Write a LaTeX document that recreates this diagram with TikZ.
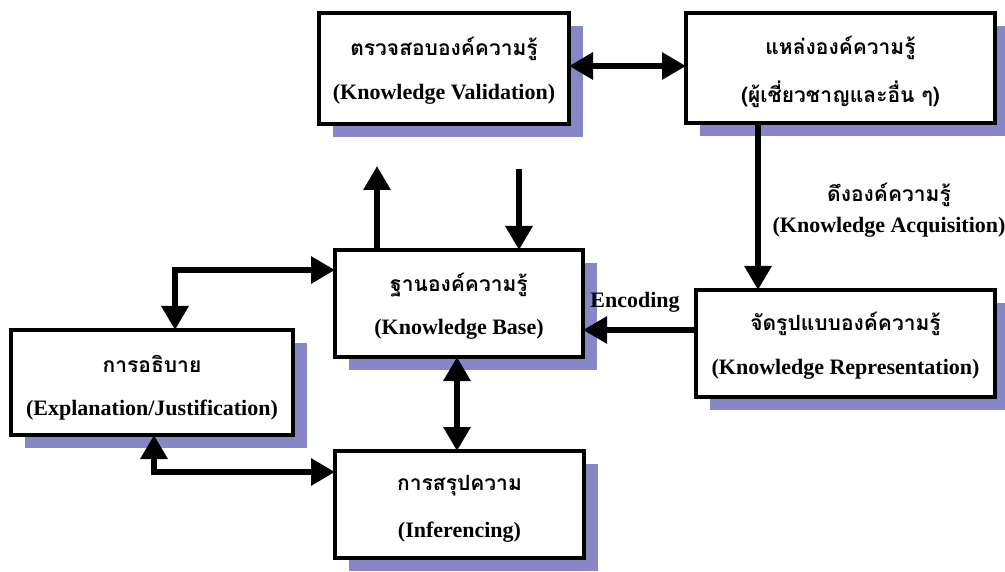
\documentclass[tikz,border=0pt]{standalone}
\usepackage{fontspec}
\setmainfont{Liberation Serif}
\newfontfamily\thaifont[Script=Thai]{Loma}
\usetikzlibrary{arrows.meta,calc,shadows}
\definecolor{shadowc}{RGB}{135,135,200}
\begin{document}
\begin{tikzpicture}[x=1pt,y=-1pt,
  box/.style={draw,line width=3.5pt,fill=white,inner sep=0pt,outer sep=0pt,
    general shadow={fill=shadowc,shadow xshift=14pt,shadow yshift=-13pt}},
  thai/.style={font=\thaifont\bfseries\fontsize{21}{24}\selectfont,inner sep=0pt},
  eng/.style={font=\bfseries\fontsize{22}{26}\selectfont,inner sep=0pt},
  tip/.tip={Triangle[length=24pt,width=26pt]},
  arr/.style={line width=6pt,-tip},
  biarr/.style={line width=6pt,tip-tip}]
\useasboundingbox (0,0) rectangle (1005,572);
% boxes
\node[box,minimum width=250pt,minimum height=111pt] (val) at (444,68.5) {};
\node[box,minimum width=309pt,minimum height=110pt] (src) at (840.5,68) {};
\node[box,minimum width=299pt,minimum height=107pt] (rep) at (845.5,343.5) {};
\node[box,minimum width=248pt,minimum height=107pt] (kb) at (459,303.5) {};
\node[box,minimum width=282pt,minimum height=105pt] (exp) at (152,382.5) {};
\node[box,minimum width=249pt,minimum height=107pt] (inf) at (459.5,504.5) {};
% texts
\node[thai] (valT) at ($(val.center)+(0,-20)$) {ตรวจสอบองค์ความรู้};
\node[eng] (valE) at ($(val.center)+(0,26)$) {(Knowledge Validation)};
\node[thai] (srcT) at ($(src.center)+(0,-20)$) {แหล่งองค์ความรู้};
\node[thai] (srcE) at ($(src.center)+(0,26)$) {(ผู้เชี่ยวชาญและอื่น ๆ)};
\node[thai] (repT) at ($(rep.center)+(0,-20)$) {จัดรูปแบบองค์ความรู้};
\node[eng] (repE) at ($(rep.center)+(0,26)$) {(Knowledge Representation)};
\node[thai] (kbT) at ($(kb.center)+(0,-18)$) {ฐานองค์ความรู้};
\node[eng] (kbE) at ($(kb.center)+(0,26)$) {(Knowledge Base)};
\node[thai] (expT) at ($(exp.center)+(0,-19)$) {การอธิบาย};
\node[eng] (expE) at ($(exp.center)+(0,28)$) {(Explanation/Justification)};
\node[thai] (infT) at ($(inf.center)+(0,-19)$) {การสรุปความ};
\node[eng] (infE) at ($(inf.center)+(0,28)$) {(Inferencing)};
\node[thai] (acqT) at (889,195) {ดึงองค์ความรู้};
\node[eng] (acqE) at (889,227) {(Knowledge Acquisition)};
\node[eng] (enc) at (635,302) {Encoding};
% helper coordinates
\coordinate (xs) at (758,0);
\coordinate (ye) at (0,330);
\coordinate (xu) at (377,0);
\coordinate (upEnd) at (377,166);
\coordinate (dnStart) at (519,169);
\coordinate (xi) at (457,0);
\coordinate (yk) at (0,270);
\coordinate (xk) at (175,0);
\coordinate (xb) at (154,0);
\coordinate (yb) at (0,472);
% connectors
\draw[biarr] (val.east |- 0,66) -- (src.west |- 0,66);
\draw[arr] (src.south -| xs) -- (rep.north -| xs);
\draw[arr] (rep.west |- ye) -- (kb.east |- ye);
\draw[arr] (kb.north -| xu) -- (upEnd);
\draw[arr] (dnStart) -- (kb.north -| dnStart);
\draw[biarr] (kb.south -| xi) -- (inf.north -| xi);
\draw[biarr] (kb.west |- yk) -| (xk |- exp.north);
\draw[biarr] (xb |- exp.south) |- (inf.west |- yb);
\end{tikzpicture}
\end{document}
